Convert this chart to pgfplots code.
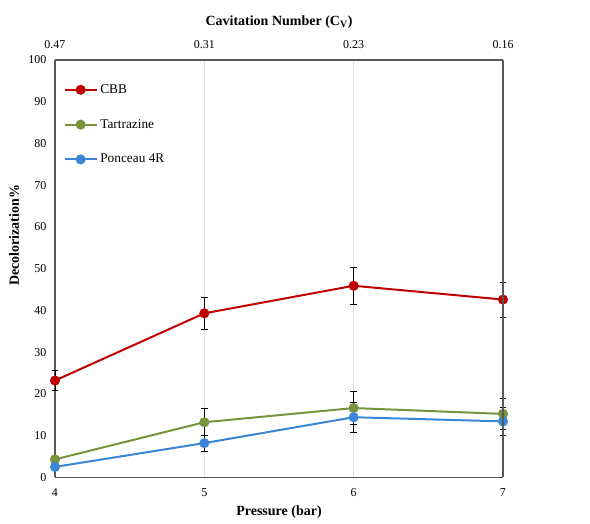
\documentclass[border=0pt]{standalone}
\usepackage{pgfplots}
\pgfplotsset{compat=1.18}
\usepackage{fontspec}
\setmainfont{Liberation Serif}
\definecolor{cbb}{HTML}{C00000}
\definecolor{tart}{HTML}{77933C}
\definecolor{ponc}{HTML}{3A85D6}
\definecolor{axgray}{HTML}{595959}
\begin{document}
\begin{tikzpicture}
\begin{axis}[
  name=main,
  scale only axis,
  width=336pt, height=313pt,
  xmin=4, xmax=7, ymin=0, ymax=100,
  xtick={4,5,6,7},
  ytick={0,10,...,100},
  axis x line*=bottom,
  axis y line*=left,
  axis line style={axgray, line width=0.9pt},
  major tick length=0pt,
  xmajorgrids,
  grid style={gray!25, line width=0.6pt},
  /pgf/number format/assume math mode=true,
  tick label style={font=\fontsize{9}{10}\selectfont},
  xticklabel style={yshift=-5pt},
  yticklabel style={xshift=-3pt},
  xlabel={\textbf{Pressure (bar)}},
  ylabel={\textbf{Decolorization\%}},
  label style={font=\fontsize{10.5}{12}\selectfont},
  xlabel style={yshift=0pt},
  ylabel style={yshift=0pt, xshift=25pt},
  legend style={draw=none, fill=none, at={(0.01,0.955)}, anchor=north west,
    font=\fontsize{10}{11}\selectfont, row sep=14pt},
  legend image code/.code={
    \draw[mark repeat=2, mark phase=2] plot coordinates {(0cm,0cm) (0.42cm,0cm) (0.84cm,0cm)};},
  legend cell align=left,
  every axis plot/.append style={line width=1.5pt, mark=*, mark size=3pt},
  error bars/y dir=both,
  error bars/y explicit,
  error bars/error bar style={black, line width=0.7pt},
  error bars/error mark options={rotate=90, mark size=2.5pt, black, line width=0.7pt},
  clip=false,
]
\addplot[cbb, mark options={fill=cbb}] coordinates {
  (4,23.2) +- (0,2.4)
  (5,39.3) +- (0,3.9)
  (6,45.9) +- (0,4.5)
  (7,42.6) +- (0,4.2)
};
\addlegendentry{CBB}
\addplot[tart, mark options={fill=tart}] coordinates {
  (4,4.3) +- (0,0.8)
  (5,13.2) +- (0,3.2)
  (6,16.6) +- (0,3.9)
  (7,15.2) +- (0,3.7)
};
\addlegendentry{Tartrazine}
\addplot[ponc, mark options={fill=ponc}] coordinates {
  (4,2.5) +- (0,0.5)
  (5,8.2) +- (0,1.9)
  (6,14.4) +- (0,3.6)
  (7,13.4) +- (0,3.3)
};
\addlegendentry{Ponceau 4R}
\end{axis}
\begin{axis}[
  scale only axis,
  width=336pt, height=313pt,
  xmin=4, xmax=7, ymin=0, ymax=100,
  axis x line*=top,
  axis y line*=right,
  axis line style={axgray, line width=0.9pt},
  major tick length=0pt,
  ytick=\empty,
  xtick={4,5,6,7},
  xticklabels={0.47,0.31,0.23,0.16},
  tick label style={font=\fontsize{9}{10}\selectfont},
  xticklabel style={yshift=5pt},
  xlabel={\textbf{Cavitation Number (C\textsubscript{V})}},
  label style={font=\fontsize{10.5}{12}\selectfont},
  xlabel style={yshift=2pt},
]
\end{axis}
\path ([shift={(-41.25pt,-30pt)}]main.south west) rectangle ([shift={(65.25pt,45pt)}]main.north east);
\end{tikzpicture}
\end{document}
